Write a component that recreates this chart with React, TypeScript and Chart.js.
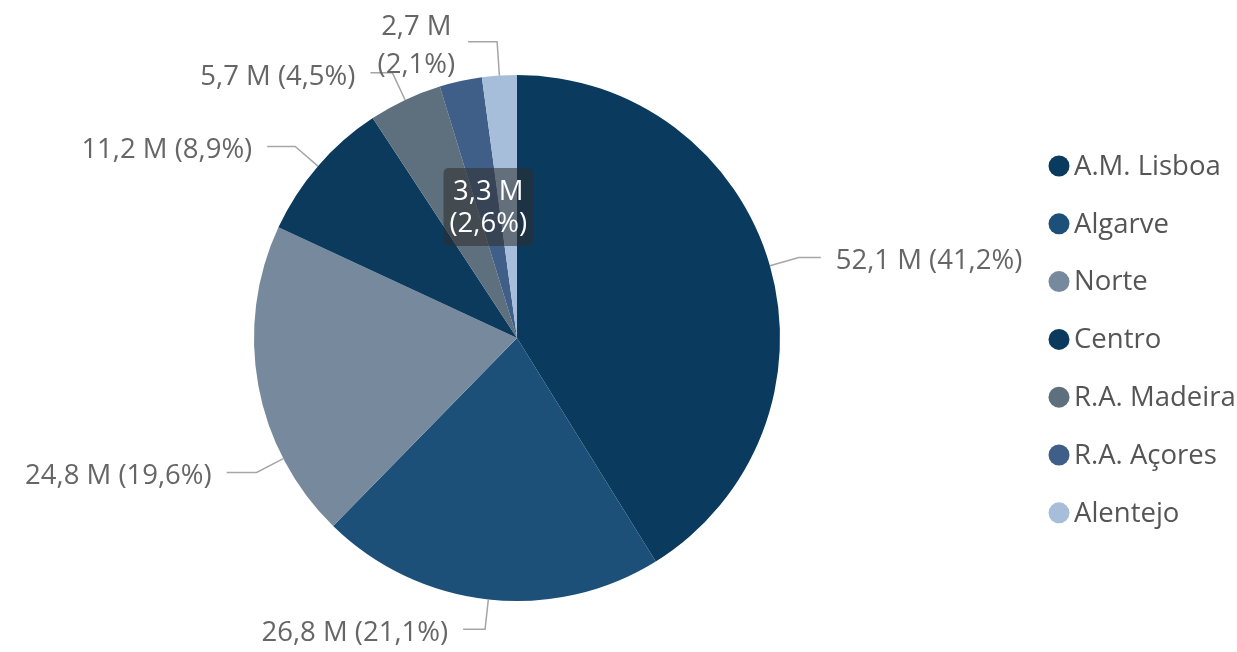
import React, { useEffect, useRef } from "react";
import { Chart, registerables } from "chart.js";

Chart.register(...registerables);

const regions = ["A.M. Lisboa", "Algarve", "Norte", "Centro", "R.A. Madeira", "R.A. Açores", "Alentejo"];
const values = [52.1, 26.8, 24.8, 11.2, 5.7, 3.3, 2.7];
const percentLabels = ["41,2%", "21,1%", "19,6%", "8,9%", "4,5%", "2,6%", "2,1%"];
const colors = ["#0a3a5e", "#1d5079", "#77899c", "#0b3a5d", "#5e707d", "#405f88", "#a7bedb"];

// label placement styles (layout only)
const labelPlacement = [
  { mode: "out", frac: 0.5, ext: 30, run: 22, side: 1 },
  { mode: "out", frac: 0.5, ext: 30, run: 22, side: -1 },
  { mode: "out", frac: 0.26, ext: 30, run: 30, side: -1 },
  { mode: "out", frac: 0.5, ext: 30, run: 28, side: -1 },
  { mode: "out", frac: 0.5, ext: 30, run: 22, side: -1 },
  { mode: "in", frac: 0.5, rf: 0.51 },
  { mode: "wrap", frac: 0.5, ext: 34, run: 29, side: -1 },
];

const FONT = '27.5px "Open Sans", "Noto Sans", sans-serif';
const fmt = (v: number) => v.toFixed(1).replace(".", ",") + " M";

const labelPlugin = {
  id: "pbiLabels",
  afterDraw(chart: any) {
    const ctx = chart.ctx;
    const meta = chart.getDatasetMeta(0);
    const ds = chart.data.datasets[0];
    ctx.save();
    ctx.font = FONT;
    meta.data.forEach((arc: any, i: number) => {
      const p = arc.getProps(["x", "y", "startAngle", "endAngle", "outerRadius"], true);
      const cfg: any = labelPlacement[i];
      const a = p.startAngle + cfg.frac * (p.endAngle - p.startAngle);
      const v = ds.data[i] as number;
      const pct = percentLabels[i];
      if (cfg.mode === "in") {
        const cx = p.x + Math.cos(a) * p.outerRadius * cfg.rf;
        const cy = p.y + Math.sin(a) * p.outerRadius * cfg.rf;
        const l1 = fmt(v);
        const l2 = "(" + pct + ")";
        const w = Math.max(ctx.measureText(l1).width, ctx.measureText(l2).width) + 12;
        const h = 78;
        ctx.fillStyle = "rgba(45,45,45,0.55)";
        ctx.beginPath();
        (ctx as any).roundRect(cx - w / 2, cy - h / 2, w, h, 5);
        ctx.fill();
        ctx.fillStyle = "#ffffff";
        ctx.textAlign = "center";
        ctx.textBaseline = "middle";
        ctx.fillText(l1, cx, cy - 15);
        ctx.fillText(l2, cx, cy + 17);
        return;
      }
      const sx = p.x + Math.cos(a) * p.outerRadius;
      const sy = p.y + Math.sin(a) * p.outerRadius;
      const ex = p.x + Math.cos(a) * (p.outerRadius + cfg.ext);
      const ey = p.y + Math.sin(a) * (p.outerRadius + cfg.ext);
      const hx = ex + cfg.side * cfg.run;
      ctx.strokeStyle = "#a6a6a6";
      ctx.lineWidth = 1.5;
      ctx.beginPath();
      ctx.moveTo(sx, sy);
      ctx.lineTo(ex, ey);
      ctx.lineTo(hx, ey);
      ctx.stroke();
      ctx.fillStyle = "#666666";
      ctx.textBaseline = "middle";
      if (cfg.mode === "wrap") {
        const l1 = fmt(v);
        const l2 = "(" + pct + ")";
        const w = Math.max(ctx.measureText(l1).width, ctx.measureText(l2).width);
        const cx = hx - 13 - w / 2;
        ctx.textAlign = "center";
        ctx.fillText(l1, cx, ey - 14);
        ctx.fillText(l2, cx, ey + 24);
      } else {
        const txt = fmt(v) + " (" + pct + ")";
        ctx.textAlign = cfg.side > 0 ? "left" : "right";
        ctx.fillText(txt, hx + cfg.side * 15, ey + 4);
      }
    });

    // legend
    const lx = 1059;
    const ly0 = 166;
    const step = 57.8;
    chart.data.labels.forEach((lab: string, i: number) => {
      const y = ly0 + i * step;
      ctx.fillStyle = colors[i];
      ctx.beginPath();
      ctx.arc(lx, y, 10.5, 0, Math.PI * 2);
      ctx.fill();
      ctx.fillStyle = "#555555";
      ctx.textAlign = "left";
      ctx.textBaseline = "middle";
      ctx.font = FONT;
      ctx.fillText(lab, lx + 15, y + 1);
    });
    ctx.restore();
  },
};

export default function App() {
  const ref = useRef<HTMLCanvasElement | null>(null);
  useEffect(() => {
    if (!ref.current) return;
    const chart = new Chart(ref.current, {
      type: "pie",
      data: {
        labels: regions,
        datasets: [
          {
            data: values,
            backgroundColor: colors,
            borderWidth: 0,
          },
        ],
      },
      options: {
        animation: false,
        responsive: false,
        layout: { padding: { top: 75, bottom: 51, left: 0, right: 203 } },
        plugins: {
          legend: { display: false },
          tooltip: { enabled: false },
        },
      },
      plugins: [labelPlugin],
    });
    return () => chart.destroy();
  }, []);
  return (
    <div style={{ position: "absolute", left: 0, top: 0, width: 1237, height: 652, background: "#ffffff" }}>
      <canvas ref={ref} width={1237} height={652} style={{ display: "block" }} />
    </div>
  );
}
